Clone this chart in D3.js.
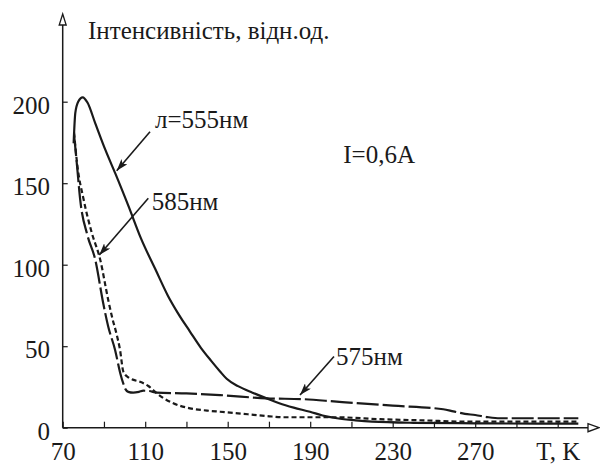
<!DOCTYPE html>
<html>
<head>
<meta charset="utf-8">
<script src="https://cdn.jsdelivr.net/npm/d3@7"></script>
<style>
  html, body { margin: 0; padding: 0; background: #fff; }
  svg { display: block; }
</style>
</head>
<body>
<svg id="chart" width="600" height="464"></svg>
<script>
// ---- data ----
const xTicks = [70, 90, 110, 130, 150, 170, 190, 210, 230, 250, 270, 290, 310];
const xLabels = [70, 110, 150, 190, 230, 270];
const xUnitLabel = "T, K";
const yTicks = [0, 50, 100, 150, 200];
const yTitle = "Інтенсивність, відн.од.";

const T555 = [75.3, 76.1, 77.5, 79.7, 82, 85.8, 90.7, 95.5, 102, 108, 115, 121, 126, 131.7, 137, 142, 146.3, 149.5, 155, 162, 168.9, 175, 182, 189.9, 196, 203, 212, 220, 240, 270, 300, 320];
const v555 = [174.5, 193, 200, 202.7, 199.5, 186.7, 170.4, 156, 135.6, 116, 97, 81, 70, 59, 49, 41, 34.5, 30, 25.5, 21.5, 18, 15, 12.3, 9.8, 7.5, 5.8, 4.5, 3.7, 3, 2.7, 2.5, 2.5];

const T575 = [75.5, 77, 78.5, 82, 85.8, 89.7, 92, 95.4, 98, 99.4, 100.5, 101.8, 104.2, 107, 109.1, 112, 115.6, 130, 146.3, 168.9, 186.6, 202.8, 230, 254.5, 259.4, 265, 270, 276, 282, 320];
const v575 = [180, 160, 139.7, 118, 103, 76, 62.4, 47.7, 33, 27, 23.5, 22, 21.5, 22, 22.7, 22.5, 21.5, 21, 20, 18, 17.5, 16, 13.5, 11.3, 10, 8.5, 7.8, 6.5, 5.8, 5.8];

const T585 = [75.5, 77, 80.2, 84, 88.2, 92.1, 93.9, 96, 97.8, 99.4, 101.8, 104, 107.5, 111.5, 115.6, 119, 123.6, 131.7, 140, 146.3, 155, 168.9, 177, 190, 202.8, 223.8, 245, 265.9, 290, 320];
const v585 = [181, 162, 139.7, 120, 103, 78.2, 68, 58, 47.7, 34.4, 30.9, 29.5, 28.2, 25.6, 21.1, 18, 15, 11.9, 10.5, 9.8, 8.8, 7.2, 6.4, 6.4, 6.4, 5.2, 4.5, 3.7, 3.7, 3.7];

const annotations = [
  { text: "л=555нм", x: 155, y: 128, from: [150, 131.7], to: [116.7, 170.7] },
  { text: "585нм", x: 151.7, y: 210, from: [148.3, 198.3], to: [99.3, 255] },
  { text: "575нм", x: 336, y: 365, from: [334, 356.5], to: [300, 395] }
];
const currentLabel = "I=0,6A";

// ---- chart ----
const svg = d3.select("#chart");
const ink = "#1a1a1a";
const fs = 25;
const font = "'Liberation Serif', 'Times New Roman', Times, 'DejaVu Serif', serif";

const x = d3.scaleLinear().domain([70, 310]).range([62.7, 557.7]);
const y = d3.scaleLinear().domain([0, 200]).range([427.7, 101.7]);

const defs = svg.append("defs");
defs.append("marker")
  .attr("id", "ann").attr("viewBox", "0 0 12 8").attr("refX", 12).attr("refY", 4)
  .attr("markerWidth", 12).attr("markerHeight", 8).attr("markerUnits", "userSpaceOnUse")
  .attr("orient", "auto")
  .append("path").attr("d", "M0,0 L12,4 L0,8 L3,4 Z").attr("fill", ink);

// axis lines with open arrowheads
const x0 = x(70), y0 = y(0);
svg.append("line").attr("x1", x0).attr("y1", y0).attr("x2", x0).attr("y2", 25)
  .attr("stroke", ink).attr("stroke-width", 1.5);
svg.append("path").attr("d", `M${x0},14 L${x0 - 3.5},25 L${x0 + 3.5},25 Z`)
  .attr("fill", "#fff").attr("stroke", ink).attr("stroke-width", 1.3);
svg.append("line").attr("x1", x0).attr("y1", y0).attr("x2", 588).attr("y2", y0)
  .attr("stroke", ink).attr("stroke-width", 1.5);
svg.append("path").attr("d", `M599,${y0} L588,${y0 - 4} L588,${y0 + 4} Z`)
  .attr("fill", "#fff").attr("stroke", ink).attr("stroke-width", 1.3);

// x axis
const xAxis = d3.axisBottom(x).tickValues(xTicks).tickSize(-6).tickPadding(15)
  .tickFormat(d => d === 310 ? xUnitLabel : (xLabels.includes(d) ? String(d) : ""));
const gx = svg.append("g").attr("transform", `translate(0,${y0})`).call(xAxis)
  .attr("font-family", font).attr("font-size", fs);
gx.select(".domain").remove();
gx.selectAll(".tick line").attr("stroke", ink).attr("stroke-width", 1.2);
gx.selectAll(".tick text").attr("fill", ink).attr("font-family", font).attr("font-size", fs);

// y axis
const yAxis = d3.axisLeft(y).tickValues(yTicks).tickSize(-5).tickPadding(12.7)
  .tickFormat(d3.format("d"));
const gy = svg.append("g").attr("transform", `translate(${x0},0)`).call(yAxis)
  .attr("font-family", font).attr("font-size", fs);
gy.select(".domain").remove();
gy.selectAll(".tick line").attr("stroke", ink).attr("stroke-width", 1.2);
gy.selectAll(".tick text").attr("fill", ink).attr("dy", "0.47em")
  .attr("font-family", font).attr("font-size", fs);

const textG = svg.append("g").attr("font-family", font).attr("font-size", fs).attr("fill", ink);

// y title
textG.append("text").attr("x", 88).attr("y", 39).text(yTitle);

// curves
const line = d3.line().x(d => x(d[0])).y(d => y(d[1])).curve(d3.curveMonotoneX);
const series = [
  { T: T555, v: v555, dash: null },
  { T: T575, v: v575, dash: "22,4" },
  { T: T585, v: v585, dash: "5,3" }
];
series.forEach(s => {
  svg.append("path").datum(d3.zip(s.T, s.v)).attr("d", line)
    .attr("fill", "none").attr("stroke", ink).attr("stroke-width", 2.2)
    .attr("stroke-dasharray", s.dash);
});

// annotations
annotations.forEach(a => {
  textG.append("text").attr("x", a.x).attr("y", a.y).text(a.text);
  svg.append("line").attr("x1", a.from[0]).attr("y1", a.from[1])
    .attr("x2", a.to[0]).attr("y2", a.to[1])
    .attr("stroke", ink).attr("stroke-width", 1.6).attr("marker-end", "url(#ann)");
});
textG.append("text").attr("x", 343.3).attr("y", 163).text(currentLabel);
</script>
</body>
</html>
